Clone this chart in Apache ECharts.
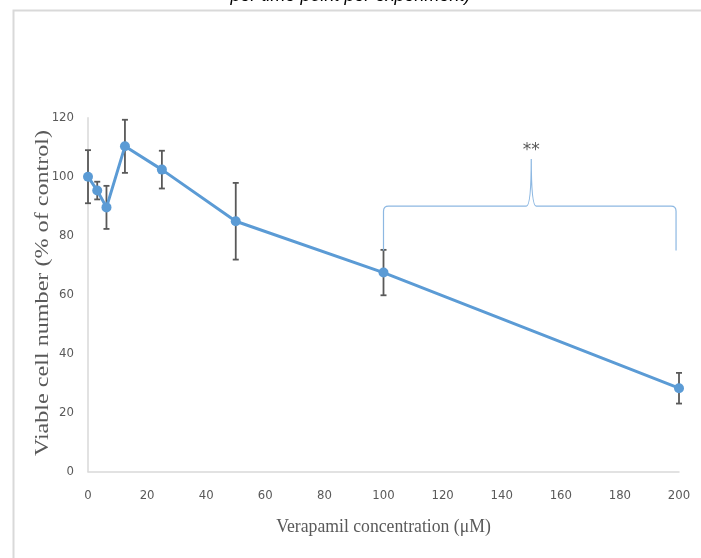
<!DOCTYPE html>
<html>
<head>
<meta charset="utf-8">
<script src="https://cdn.jsdelivr.net/npm/echarts@6/dist/echarts.min.js"></script>
<style>
html,body{margin:0;padding:0;background:#fff;}
#chart{width:701px;height:558px;}
</style>
</head>
<body>
<div id="chart"></div>
<script>
// ---- data ----
var concentrations = [0, 3.125, 6.25, 12.5, 25, 50, 100, 200];
var viable = [100, 95.3, 89.6, 110.3, 102.4, 84.9, 67.5, 28.3];
var errors = [9, 3, 7.3, 9, 6.4, 13, 7.7, 5.2];
var xTicks = [0, 20, 40, 60, 80, 100, 120, 140, 160, 180, 200];
var yTicks = [0, 20, 40, 60, 80, 100, 120];
var xTitle = 'Verapamil concentration (μM)';
var yTitle = 'Viable cell number (% of control)';
var topTitle = 'per time point per experiment)';
var bracketX = [100, 199];      // span of the significance bracket
var bracketMid = 150;
var bracketYBase = 75;          // bottom of bracket arms
var bracketYBar = 90;           // horizontal bar level
var bracketYPeak = 106;         // tip of the brace
var sigLabel = '**';
var sigLabelY = 109;

var pointData = concentrations.map(function (c, i) { return [c, viable[i]]; });
var errData = concentrations.map(function (c, i) { return [c, viable[i] - errors[i], viable[i] + errors[i]]; });

var chart = echarts.init(document.getElementById('chart'));
var tickFont = "'Liberation Sans Narrow', 'DejaVu Sans Condensed', 'Roboto', sans-serif";
var serif = "'Liberation Serif', 'DejaVu Serif', serif";

chart.setOption({
  animation: false,
  backgroundColor: '#fff',
  graphic: [
    { type: 'rect', left: 11, top: 8, shape: { width: 720, height: 600 },
      style: { fill: 'none', stroke: '#d9d9d9', lineWidth: 2 }, silent: true, z: -1 },
    { type: 'text', left: 'center', top: -13,
      style: { text: topTitle, font: 'italic 18px "Liberation Sans", Arial, sans-serif', fill: '#000' } },
    { type: 'text', x: 43.5, y: 293, rotation: Math.PI / 2, scaleX: 1.27,
      style: { text: yTitle, font: '19px ' + serif, fill: '#595959', align: 'center', verticalAlign: 'middle' } },
    { type: 'text', x: 383.5, y: 527, scaleX: 0.93,
      style: { text: xTitle, font: '19px ' + serif, fill: '#595959', align: 'center', verticalAlign: 'middle' } }
  ],
  grid: { left: 88, right: 22, top: 117.7, bottom: 86.3, containLabel: false },
  xAxis: {
    type: 'value', min: xTicks[0], max: xTicks[xTicks.length - 1], interval: 20,
    axisLine: { show: true, lineStyle: { color: '#d9d9d9', width: 1.5 } },
    axisTick: { show: false },
    splitLine: { show: false },
    axisLabel: { fontFamily: tickFont, fontSize: 13, color: '#595959', margin: 17 }
  },
  yAxis: {
    type: 'value', min: yTicks[0], max: yTicks[yTicks.length - 1], interval: 20,
    axisLine: { show: true, lineStyle: { color: '#d9d9d9', width: 1.5 } },
    axisTick: { show: false },
    splitLine: { show: false },
    axisLabel: { fontFamily: tickFont, fontSize: 13, color: '#595959', margin: 14 }
  },
  series: [
    {
      type: 'line', data: pointData, z: 3,
      lineStyle: { color: '#5B9BD5', width: 3 },
      itemStyle: { color: '#5B9BD5' },
      symbol: 'circle', symbolSize: 10
    },
    {
      type: 'custom', data: errData, z: 2,
      renderItem: function (params, api) {
        var x = api.value(0);
        var lo = api.coord([x, api.value(1)]);
        var hi = api.coord([x, api.value(2)]);
        var w = 3;
        var st = { stroke: '#595959', lineWidth: 1.8 };
        return { type: 'group', children: [
          { type: 'line', shape: { x1: lo[0], y1: lo[1], x2: hi[0], y2: hi[1] }, style: st },
          { type: 'line', shape: { x1: hi[0] - w, y1: hi[1], x2: hi[0] + w, y2: hi[1] }, style: st },
          { type: 'line', shape: { x1: lo[0] - w, y1: lo[1], x2: lo[0] + w, y2: lo[1] }, style: st }
        ]};
      }
    },
    {
      type: 'custom', data: [[bracketX[0], bracketYBase]], z: 2, silent: true,
      renderItem: function (params, api) {
        var a = api.coord([bracketX[0], bracketYBase]);
        var b = api.coord([bracketX[0], bracketYBar]);
        var c = api.coord([bracketX[1], bracketYBar]);
        var d = api.coord([bracketX[1], bracketYBase]);
        var m = api.coord([bracketMid, bracketYPeak]);
        var t = api.coord([bracketMid, sigLabelY]);
        var r = 5;
        var y = b[1];
        var p = 'M' + a[0] + ' ' + a[1] +
          ' L' + b[0] + ' ' + (y + r) +
          ' Q' + b[0] + ' ' + y + ' ' + (b[0] + r) + ' ' + y +
          ' L' + (m[0] - r) + ' ' + y +
          ' Q' + m[0] + ' ' + y + ' ' + m[0] + ' ' + m[1] +
          ' Q' + m[0] + ' ' + y + ' ' + (m[0] + r) + ' ' + y +
          ' L' + (c[0] - r) + ' ' + y +
          ' Q' + c[0] + ' ' + y + ' ' + c[0] + ' ' + (y + r) +
          ' L' + d[0] + ' ' + d[1];
        return { type: 'group', children: [
          { type: 'path', shape: { pathData: p }, style: { fill: 'none', stroke: '#8DB8E2', lineWidth: 1.2 } },
          { type: 'text', x: t[0], y: t[1], style: { text: sigLabel, font: '17px "DejaVu Sans", sans-serif', fill: '#595959', align: 'center', verticalAlign: 'middle' } }
        ]};
      }
    }
  ]
});
</script>
</body>
</html>
